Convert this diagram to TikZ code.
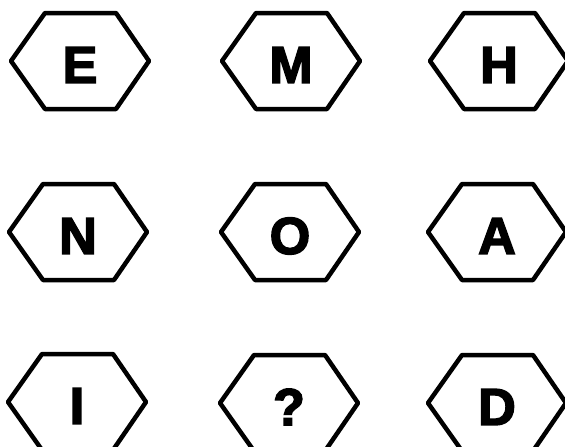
\documentclass[tikz,border=0pt]{standalone}
\usepackage{fontspec}
\setmainfont{Liberation Sans}[BoldFeatures={FakeBold=3}]
\begin{document}
\begin{tikzpicture}[x=1pt,y=-1pt,
  letter/.style={inner sep=0pt,font=\fontsize{52}{52}\selectfont\bfseries},
  hexline/.style={line width=4.5pt,line join=round}]
\useasboundingbox (0,0) rectangle (565,447);
\fill[white] (0,0) rectangle (565,447);
% hexagon centres
\foreach \nm/\cx/\cy/\t in {E/80/61/E, M/291/61/M, H/499/61/H,
                            N/78/232/N, O/290/232/O, A/497/232/A,
                            I/77/402/I, Q/289/403/?, D/497/403/D}{
  \coordinate (c\nm) at (\cx,\cy);
  \node[letter] (t\nm) at ([yshift=-4pt]c\nm) {\t};
  \draw[hexline] ([shift={(-69,0)}]c\nm) -- ([shift={(-35,-48)}]c\nm)
     -- ([shift={(36,-48)}]c\nm) -- ([shift={(69,0)}]c\nm)
     -- ([shift={(36,48)}]c\nm) -- ([shift={(-35,48)}]c\nm) -- cycle;
}
\end{tikzpicture}
\end{document}
